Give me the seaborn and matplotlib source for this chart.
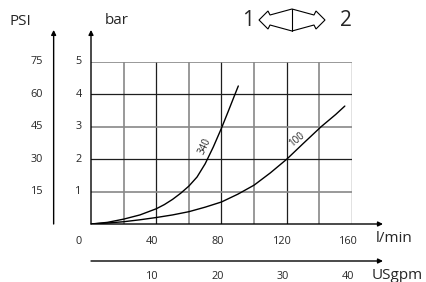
import numpy as np
import pandas as pd
import seaborn as sns
import matplotlib.pyplot as plt
from matplotlib.patches import Polygon

# -----------------------------
# Datos
# -----------------------------
flow_340 = [0, 10, 20, 30, 40, 45, 50, 55, 60, 65, 70, 75, 80, 84, 88, 90.3]
bar_340 = [0, 0.05, 0.15, 0.28, 0.47, 0.6, 0.76, 0.95, 1.17, 1.45, 1.86, 2.38, 2.96, 3.46, 3.97, 4.26]

flow_100 = [0, 10, 20, 30, 40, 50, 60, 70, 80, 90, 100, 110, 120, 130, 141, 150, 155.6]
bar_100 = [0, 0.03, 0.07, 0.13, 0.2, 0.28, 0.38, 0.52, 0.68, 0.92, 1.2, 1.58, 2.0, 2.48, 3.0, 3.38, 3.64]

lmin_ticks = [40, 80, 120, 160]
gpm_ticks = [10, 20, 30, 40]
bar_ticks = [1, 2, 3, 4, 5]
psi_labels = ["15", "30", "45", "60", "75"]

curvas = pd.concat([
    pd.DataFrame({"Q": flow_340, "p": bar_340, "serie": "340"}),
    pd.DataFrame({"Q": flow_100, "p": bar_100, "serie": "100"}),
])

# -----------------------------
# Figura
# -----------------------------
sns.set_style("white")
plt.rcParams["font.family"] = ["Open Sans", "DejaVu Sans"]

W, H = 427, 282
fig = plt.figure(figsize=(W / 100, H / 100), dpi=100)
ax = fig.add_axes([91 / W, 1 - 224 / H, 261 / W, 162 / H])
ax.set_xlim(0, 160)
ax.set_ylim(0, 5)
ax.axis("off")

# rejilla: negras y grises alternadas
for q in range(20, 161, 20):
    if q % 40 == 0:
        ax.axvline(q, color="#1e1e1e", lw=0.9, zorder=1)
    else:
        ax.axvline(q, color="#888888", lw=1.2, zorder=1)
for p in bar_ticks:
    if p % 2 == 0:
        ax.axhline(p, color="#1e1e1e", lw=0.9, zorder=1)
    else:
        ax.axhline(p, color="#888888", lw=1.2, zorder=1)

# curvas
sns.lineplot(data=curvas, x="Q", y="p", units="serie", estimator=None,
             color="black", lw=1.0, ax=ax, zorder=3, legend=False)

# ejes con flechas
arrow = dict(arrowstyle="-|>", mutation_scale=7, lw=1.0, color="black",
             shrinkA=0, shrinkB=0)
ax.annotate("", xy=(0, 5.99), xytext=(0, 0), arrowprops=arrow, annotation_clip=False)
ax.annotate("", xy=(-22.9, 5.99), xytext=(-22.9, 0), arrowprops=arrow, annotation_clip=False)
ax.annotate("", xy=(179, 0), xytext=(0, 0), arrowprops=arrow, annotation_clip=False)
ax.annotate("", xy=(179, -1.142), xytext=(0, -1.142), arrowprops=arrow, annotation_clip=False)

# etiquetas de ejes
fs_tick = 7.8
for p, lab in zip(bar_ticks, psi_labels):
    ax.text(-7.7, p, str(p), ha="center", va="center", fontsize=fs_tick, clip_on=False)
    ax.text(-33.1, p, lab, ha="center", va="center", fontsize=fs_tick, clip_on=False)

ax.text(-7.7, -0.525, "0", ha="center", va="center", fontsize=fs_tick, clip_on=False)
for q in lmin_ticks:
    ax.text(q - 2.5, -0.525, str(q), ha="center", va="center", fontsize=fs_tick, clip_on=False)
for g in gpm_ticks:
    ax.text(g * 4 - 2.5, -1.62, str(g), ha="center", va="center", fontsize=fs_tick, clip_on=False)

fs_lab = 11
ax.text(174.5, -0.45, "l/min", ha="left", va="center", fontsize=fs_lab, clip_on=False)
ax.text(172.3, -1.6, "USgpm", ha="left", va="center", fontsize=fs_lab, clip_on=False)
ax.text(-43.5, 6.26, "PSI", ha="center", va="center", fontsize=fs_lab, clip_on=False)
ax.text(15.6, 6.27, "bar", ha="center", va="center", fontsize=fs_lab, clip_on=False)

# etiquetas de curvas
ax.text(69.9, 2.41, "340", rotation=65, ha="center", va="center", fontsize=7, zorder=4)
ax.text(126.3, 2.59, "100", rotation=40, ha="center", va="center", fontsize=7, zorder=4)

# simbolo 1 <-> 2
fig.text(248 / W, 1 - 20 / H, "1", ha="center", va="center", fontsize=15)
fig.text(346 / W, 1 - 20 / H, "2", ha="center", va="center", fontsize=15)
forma = [(259, 20), (268, 11), (270, 15), (292, 9), (314, 15), (316, 11), (325, 20),
         (316, 29), (314, 25), (292, 31), (270, 25), (268, 29)]
fig.patches.append(Polygon([(x / W, 1 - y / H) for x, y in forma], closed=True,
                           fill=False, ec="black", lw=0.8, transform=fig.transFigure))
fig.lines.append(plt.Line2D([292 / W, 292 / W], [1 - 9 / H, 1 - 31 / H],
                            color="black", lw=0.8, transform=fig.transFigure))

fig.savefig("out.png", dpi=100)
